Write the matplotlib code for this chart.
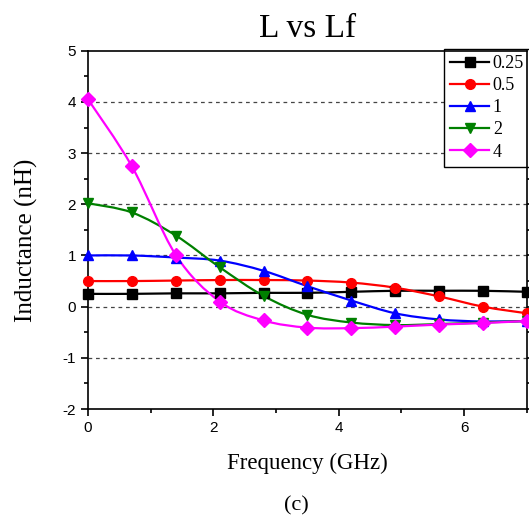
import numpy as np
import matplotlib
matplotlib.use("Agg")
import matplotlib.pyplot as plt
from matplotlib.path import Path
from matplotlib.patches import PathPatch
from matplotlib.lines import Line2D

# frequency points (GHz)
freq = [0.0, 0.7, 1.4, 2.1, 2.8, 3.5, 4.2, 4.9, 5.6, 6.3, 7.0]

# inductance (nH) for each Lf value
L_025 = [0.25, 0.25, 0.26, 0.26, 0.27, 0.27, 0.29, 0.31, 0.31, 0.31, 0.29]
L_05 = [0.50, 0.50, 0.51, 0.52, 0.52, 0.51, 0.47, 0.37, 0.20, 0.00, -0.13]
L_1 = [1.00, 1.00, 0.96, 0.90, 0.70, 0.40, 0.12, -0.13, -0.25, -0.29, -0.28]
L_2 = [2.02, 1.84, 1.39, 0.77, 0.21, -0.16, -0.31, -0.36, -0.34, -0.31, -0.28]
L_4 = [4.05, 2.74, 1.01, 0.10, -0.27, -0.41, -0.42, -0.39, -0.35, -0.32, -0.28]

labels = ['0.25', '0.5', '1', '2', '4']
series = [L_025, L_05, L_1, L_2, L_4]
colors = ['black', '#ff0000', '#0000ff', '#008000', '#ff00ff']
markers = ['s', 'o', '^', 'v', 'D']


def smooth_path(x, y):
    # catmull-rom through the points, drawn as bezier segments
    x = np.asarray(x, float); y = np.asarray(y, float)
    P = np.column_stack([x, y])
    P = np.vstack([P[0], P, P[-1]])
    verts = [P[1]]
    codes = [Path.MOVETO]
    for i in range(1, len(P) - 2):
        p0, p1, p2, p3 = P[i-1], P[i], P[i+1], P[i+2]
        verts += [p1 + (p2 - p0) / 6, p2 - (p3 - p1) / 6, p2]
        codes += [Path.CURVE4] * 3
    return Path(verts, codes)


plt.rcParams['font.family'] = ['Liberation Sans', 'DejaVu Sans']
plt.rcParams['axes.unicode_minus'] = False
fig = plt.figure(figsize=(5.29, 5.18), dpi=100)
ax = fig.add_axes([0.1664, 0.2104, 0.8296, 0.6916])

for yv, c, m, lab in zip(series, colors, markers, labels):
    ax.add_patch(PathPatch(smooth_path(freq, yv), fill=False, edgecolor=c, lw=1.6, zorder=3))
    ax.plot(freq, yv, ls='none', marker=m, color=c, ms=7, zorder=4, clip_on=False)

for g in [-1, 0, 1, 2, 3, 4]:
    ax.axhline(g, color='#444444', ls=(0, (3, 3)), lw=0.9, zorder=1)

ax.set_xlim(0, 7)
ax.set_ylim(-2, 5)
ax.set_xticks([0, 2, 4, 6])
ax.set_xticks([1, 3, 5, 7], minor=True)
ax.set_yticks(range(-2, 6))
ax.set_yticks(np.arange(-1.5, 5, 1), minor=True)
ax.tick_params(axis='both', which='major', direction='out', length=5, width=1.2, labelsize=11)
ax.tick_params(axis='both', which='minor', direction='out', length=3, width=1.2)
ax.tick_params(axis='y', which='both', right=True)
for s in ax.spines.values():
    s.set_linewidth(1.2)

serif = ['Liberation Serif', 'DejaVu Serif']
ax.set_xlabel('Frequency (GHz)', fontsize=16.5, family=serif, labelpad=13)
ax.set_ylabel('Inductance (nH)', fontsize=18, family=serif)
ax.yaxis.set_label_coords(-0.114, 0.472)
ax.set_title('L vs Lf', fontsize=24, family=serif, pad=10)
fig.text(0.561, 0.023, '(c)', fontsize=16, family=serif, ha='center', va='center')

handles = [Line2D([], [], color=c, marker=m, ms=7, lw=1.6) for c, m in zip(colors, markers)]
leg = ax.legend(handles, labels, loc='upper left', bbox_to_anchor=(444/529, 1 - 49/518),
                bbox_transform=fig.transFigure, borderaxespad=0, fancybox=False,
                edgecolor='black', framealpha=1, handlelength=2.15,
                prop={'family': serif, 'size': 13}, labelspacing=0.28,
                handletextpad=0.2, borderpad=0.35)
leg.get_frame().set_linewidth(1.0)
leg.set_zorder(2)

fig.savefig('out.png', dpi=100)
